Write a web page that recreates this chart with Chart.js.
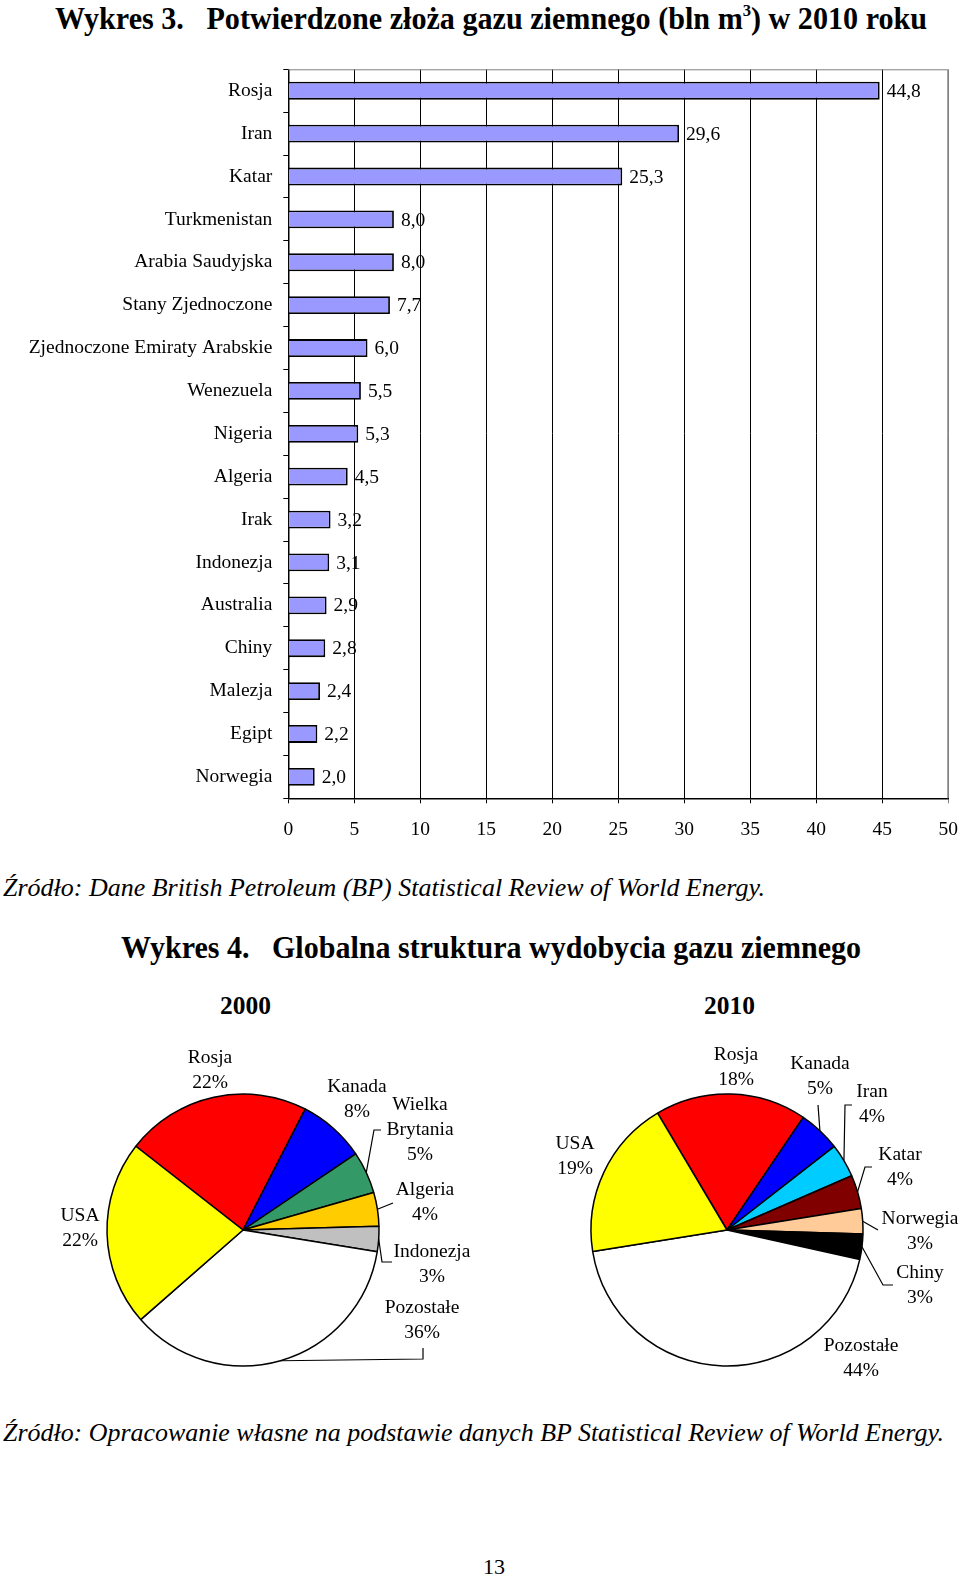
<!DOCTYPE html>
<html lang="pl">
<head>
<meta charset="UTF-8">
<title>Wykres 3 i 4 - gaz ziemny</title>
<script src="https://cdn.jsdelivr.net/npm/chart.js"></script>
<style>
    html, body { margin: 0; padding: 0; background: #fff; }
    body { width: 960px; height: 1579px; position: relative; overflow: hidden; font-family: 'Liberation Serif', 'DejaVu Serif', serif; color: #000; }
    .txt { position: absolute; white-space: pre; line-height: 1; transform-origin: left center; }
    .b { font-weight: bold; }
    .i { font-style: italic; }
    sup { font-size: 0.55em; vertical-align: 0.75em; line-height: 0; }
    canvas { position: absolute; }
</style>
</head>
<body>

<div class="txt b" data-w="872" style="left:55px;top:18px;font-size:32px">Wykres 3.   Potwierdzone złoża gazu ziemnego (bln m<sup>3</sup>) w 2010 roku</div>

<div id="barBox" style="position:absolute;left:0;top:50px;width:980px;height:800px"><canvas id="barChart"></canvas></div>

<div class="txt i" data-w="762" style="left:3px;top:887px;font-size:25px">Źródło: Dane British Petroleum (BP) Statistical Review of World Energy.</div>

<div class="txt b" data-w="740" style="left:121px;top:947px;font-size:31px">Wykres 4.   Globalna struktura wydobycia gazu ziemnego</div>

<div class="txt b" data-w="51" style="left:220px;top:1005px;font-size:25px">2000</div>
<div class="txt b" data-w="51" style="left:704px;top:1005px;font-size:25px">2010</div>

<div style="position:absolute;left:40px;top:1030px;width:440px;height:360px"><canvas id="pie2000"></canvas></div>
<div style="position:absolute;left:520px;top:1030px;width:440px;height:360px"><canvas id="pie2010"></canvas></div>

<div class="txt i" data-w="941" style="left:3px;top:1432px;font-size:25px">Źródło: Opracowanie własne na podstawie danych BP Statistical Review of World Energy.</div>

<div class="txt" data-w="22" style="left:483px;top:1567px;font-size:22px">13</div>

<script>
    // --- dane: wykres 3 ---
    const countries = ['Rosja', 'Iran', 'Katar', 'Turkmenistan', 'Arabia Saudyjska', 'Stany Zjednoczone',
        'Zjednoczone Emiraty Arabskie', 'Wenezuela', 'Nigeria', 'Algeria', 'Irak', 'Indonezja',
        'Australia', 'Chiny', 'Malezja', 'Egipt', 'Norwegia'];
    const reserves = [44.8, 29.6, 25.3, 8.0, 8.0, 7.7, 6.0, 5.5, 5.3, 4.5, 3.2, 3.1, 2.9, 2.8, 2.4, 2.2, 2.0];
    const xTicks = [0, 5, 10, 15, 20, 25, 30, 35, 40, 45, 50];

    // --- dane: wykres 4 ---
    const labels2000 = ['Rosja', 'Kanada', 'Wielka Brytania', 'Algeria', 'Indonezja', 'Pozostałe', 'USA'];
    const shares2000 = [22, 8, 5, 4, 3, 36, 22];
    const labels2010 = ['Rosja', 'Kanada', 'Iran', 'Katar', 'Norwegia', 'Chiny', 'Pozostałe', 'USA'];
    const shares2010 = [18, 5, 4, 4, 3, 3, 44, 19];

    const colors2000 = ['#ff0000', '#0000ff', '#339966', '#ffcc00', '#c0c0c0', '#ffffff', '#ffff00'];
    const colors2010 = ['#ff0000', '#0000ff', '#00ccff', '#800000', '#ffcc99', '#000000', '#ffffff', '#ffff00'];

    // rozmieszczenie opisów względem środka koła (px)
    const layout2000 = [
        { dx: -33, dy: -172 },
        { dx: 114, dy: -143 },
        { dx: 177, dy: -125, lines: ['Wielka', 'Brytania'], leader: [[131, -100], [138, -100]] },
        { dx: 182, dy: -40, leader: [[150, -27]] },
        { dx: 189, dy: 22, leader: [[139, 32], [149, 32]] },
        { dx: 179, dy: 78, leader: [[180, 129], [180, 118]] },
        { dx: -163, dy: -14 }
    ];
    const layout2010 = [
        { dx: 9, dy: -175 },
        { dx: 93, dy: -166, leader: [[91, -125]] },
        { dx: 145, dy: -138, leader: [[118, -125], [125, -125]] },
        { dx: 173, dy: -75, leader: [[138, -63], [145, -63]] },
        { dx: 193, dy: -11, leader: [[151, 0]] },
        { dx: 193, dy: 43, leader: [[156, 55], [166, 55]] },
        { dx: 134, dy: 116 },
        { dx: -152, dy: -86 }
    ];

    const FONT = '"Liberation Serif", "DejaVu Serif", serif';

    // dopasowanie szerokości tekstów
    document.querySelectorAll('[data-w]').forEach(el => {
        const w = el.getBoundingClientRect().width;
        el.style.transform = `translateY(-50%) scaleX(${(+el.dataset.w / w).toFixed(4)})`;
    });

    const barLabels = {
        id: 'barLabels',
        afterDatasetsDraw(chart) {
            const ctx = chart.ctx;
            const a = chart.chartArea;
            ctx.save();
            ctx.strokeStyle = '#808080';
            ctx.lineWidth = 1;
            ctx.beginPath();
            ctx.moveTo(a.left, a.top + 0.5);
            ctx.lineTo(a.right - 0.5, a.top + 0.5);
            ctx.lineTo(a.right - 0.5, a.bottom);
            ctx.stroke();
            ctx.font = `19.5px ${FONT}`;
            ctx.fillStyle = '#000';
            ctx.textBaseline = 'middle';
            chart.getDatasetMeta(0).data.forEach((bar, i) => {
                ctx.fillText(reserves[i].toFixed(1).replace('.', ','), bar.x + 7, bar.y + 1);
            });
            ctx.restore();
        }
    };

    new Chart(document.getElementById('barChart'), {
        type: 'bar',
        data: {
            labels: countries,
            datasets: [{
                data: reserves,
                backgroundColor: '#9999ff',
                borderColor: '#000',
                borderWidth: 1.8,
                categoryPercentage: 0.8,
                barPercentage: 0.52
            }]
        },
        options: {
            indexAxis: 'y',
            responsive: true,
            maintainAspectRatio: false,
            animation: false,
            layout: { padding: { top: 19.3, right: 31.7, left: 0, bottom: 0 } },
            plugins: { legend: { display: false }, tooltip: { enabled: false } },
            scales: {
                x: {
                    type: 'linear', min: 0, max: 50,
                    afterBuildTicks: s => { s.ticks = xTicks.map(v => ({ value: v })); },
                    afterFit: s => { s.height = 51.7; },
                    ticks: { color: '#000', font: { family: FONT, size: 19.5 }, padding: 15, maxRotation: 0 },
                    grid: { color: c => (c.tick && c.tick.value === 50 ? '#808080' : '#000'), lineWidth: 1, tickLength: 5 },
                    border: { color: '#000', width: 1.5 }
                },
                y: {
                    afterFit: s => { s.width = 288.3; },
                    ticks: { color: '#000', font: { family: FONT, size: 19.5, lineHeight: 0.8 }, padding: 11, autoSkip: false },
                    grid: { drawOnChartArea: false, offset: true, tickLength: 5, color: '#000' },
                    border: { color: '#000', width: 1.5 }
                }
            }
        },
        plugins: [barLabels]
    });

    function pieLabelPlugin(labels, values, layout) {
        return {
            id: 'pieLabels',
            afterDatasetsDraw(chart) {
                const ctx = chart.ctx;
                ctx.save();
                ctx.font = `19.5px ${FONT}`;
                ctx.fillStyle = '#000';
                ctx.strokeStyle = '#000';
                ctx.lineWidth = 1.2;
                ctx.textAlign = 'center';
                ctx.textBaseline = 'middle';
                chart.getDatasetMeta(0).data.forEach((arc, i) => {
                    const p = arc.getProps(['x', 'y', 'startAngle', 'endAngle', 'outerRadius']);
                    const L = layout[i];
                    const lines = (L.lines || [labels[i]]).concat([values[i] + '%']);
                    lines.forEach((t, k) => ctx.fillText(t, p.x + L.dx, p.y + L.dy + k * 25));
                    if (L.leader) {
                        const mid = (p.startAngle + p.endAngle) / 2;
                        ctx.beginPath();
                        ctx.moveTo(p.x + Math.cos(mid) * p.outerRadius, p.y + Math.sin(mid) * p.outerRadius);
                        L.leader.forEach(pt => ctx.lineTo(p.x + pt[0], p.y + pt[1]));
                        ctx.stroke();
                    }
                });
                ctx.restore();
            }
        };
    }

    function makePie(id, labels, values, colors, layout, rotation, padding) {
        new Chart(document.getElementById(id), {
            type: 'pie',
            data: {
                labels: labels,
                datasets: [{ data: values, backgroundColor: colors, borderColor: '#000', borderWidth: 1.5, radius: 136 }]
            },
            options: {
                responsive: true,
                maintainAspectRatio: false,
                animation: false,
                rotation: rotation,
                layout: { padding: padding },
                plugins: { legend: { display: false }, tooltip: { enabled: false } }
            },
            plugins: [pieLabelPlugin(labels, values, layout)]
        });
    }

    makePie('pie2000', labels2000, shares2000, colors2000, layout2000, -52, { left: 20, right: 54, top: 50, bottom: 10 });
    makePie('pie2010', labels2010, shares2010, colors2010, layout2010, -30.7, { left: 20, right: 46, top: 50, bottom: 10 });
</script>
</body>
</html>
